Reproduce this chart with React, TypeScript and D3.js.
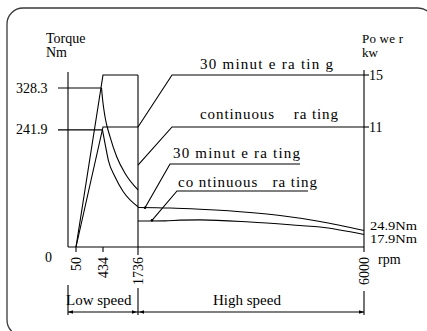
import React from 'react';
import * as d3 from 'd3';

// ---- data ----
const rpmTicks = [50, 434, 1736, 6000];
const torqueTicks = [328.3, 241.9];
const torqueTickRpm = [413, 426];
const powerTicks = [15, 11];
const endLabels = ['24.9Nm', '17.9Nm'];
const regionLabels = ['Low speed', 'High speed'];
const ratingLabels = ['30 minut e ra tin g', 'continuous    ra ting', '30 minut e ra ting', 'co ntinuous   ra ting'];

// power (rpm, kW)
const lowPower30: [number, number][] = [[50, 0], [434, 15], [1736, 15]];
const lowPowerCont: [number, number][] = [[50, 0], [434, 11], [1736, 11]];
// torque (rpm, Nm)
const lowTorque30: [number, number][] = [[413, 328.3], [429, 303.5], [508, 269], [694, 227.8], [944, 186.5], [1252, 152.2], [1736, 117.7]];
const lowTorqueCont: [number, number][] = [[426, 241.9], [508, 214], [631, 179.6], [880, 145.2], [1189, 114.2], [1736, 83.2]];
const highTorque30: [number, number][] = [[1736, 81.6], [2340, 80.5], [2906, 77.8], [3849, 71.2], [4416, 65], [5170, 52.7], [6000, 34.1]];
const highTorqueCont: [number, number][] = [[1736, 53.7], [2245, 54], [2528, 55.4], [2906, 56], [3849, 51.6], [4793, 44.4], [5170, 41.3], [6000, 25.8]];
// leaders
const leaderTop30: [number, number][] = [[1736, 11], [2378, 15], [6000, 15]]; // power
const leaderTopCont: [number, number][] = [[1736, 7.5], [2378, 11], [6000, 11]]; // power
const leaderLow30: [number, number][] = [[1868, 81], [2340, 171.4], [4793, 171.4]]; // torque
const leaderLowCont: [number, number][] = [[2000, 55], [2472, 115.6], [4944, 115.6]]; // torque

export default function App() {
  const W = 427, H = 331;
  const x = d3.scaleLinear().domain([0, 50, 434, 1736, 6000]).range([68, 76, 103, 138, 364]);
  const yT = d3.scaleLinear().domain([0, 328.3]).range([247, 88]);
  const yP = d3.scaleLinear().domain([0, 11, 15]).range([247, 127, 75]);
  const baseY = yT(0);

  const lineT = d3.line<[number, number]>().x(d => x(d[0])).y(d => yT(d[1]));
  const lineP = d3.line<[number, number]>().x(d => x(d[0])).y(d => yP(d[1]));
  const curveT = d3.line<[number, number]>().x(d => x(d[0])).y(d => yT(d[1])).curve(d3.curveMonotoneX);

  const font = "'Liberation Serif', 'Times New Roman', serif";
  const sw = 1.1;
  const xL = x(0), xR = x(6000), xMid = x(1736);
  const dimY = 312;

  const arrow = (tipX: number, dir: number) =>
    `M${tipX},${dimY}L${tipX - dir * 5},${dimY - 1.8}L${tipX - dir * 5},${dimY + 1.8}Z`;

  const ratingPos = [
    { x: 200, y: 69, len: 133 },
    { x: 200, y: 119, len: 138 },
    { x: 173, y: 158, len: 127 },
    { x: 178, y: 187, len: 139 },
  ];

  return (
    <svg width={W} height={H} style={{ position: 'absolute', left: 0, top: 0, display: 'block', background: '#fff' }}
      fontFamily={font}>
      <rect x={7} y={8} width={427} height={328} rx={16} fill="none" stroke="#3a3a3a" strokeWidth={1.3} />

      <g fill="none" stroke="#000" strokeWidth={sw}>
        {/* axes */}
        <line x1={xL} y1={72} x2={xL} y2={baseY} />
        <line x1={xL} y1={baseY} x2={xR} y2={baseY} />
        <line x1={xR} y1={70} x2={xR} y2={252} />
        <line x1={xMid} y1={yP(15)} x2={xMid} y2={255} />
        {rpmTicks.filter(r => r !== 1736 && r !== 6000).map(r => (
          <line key={r} x1={x(r)} y1={baseY} x2={x(r)} y2={baseY + 5} />
        ))}
        {/* torque ticks */}
        {torqueTicks.map((t, i) => (
          <line key={t} x1={58} y1={yT(t)} x2={x(torqueTickRpm[i])} y2={yT(t)} />
        ))}
        {/* power ticks */}
        {powerTicks.map(p => (
          <line key={p} x1={xR} y1={yP(p)} x2={xR + 5} y2={yP(p)} />
        ))}
        {/* curves */}
        <path d={lineP(lowPower30)!} />
        <path d={lineP(lowPowerCont)!} />
        <path d={curveT(lowTorque30)!} />
        <path d={curveT(lowTorqueCont)!} />
        <path d={curveT(highTorque30)!} />
        <path d={curveT(highTorqueCont)!} />
        {/* leaders */}
        <path d={lineP(leaderTop30)!} />
        <path d={lineP(leaderTopCont)!} />
        <path d={lineT(leaderLow30)!} />
        <path d={lineT(leaderLowCont)!} />
        {/* dimension line */}
        <line x1={xL} y1={285} x2={xL} y2={315} />
        <line x1={xMid} y1={288} x2={xMid} y2={315} />
        <line x1={xR} y1={291} x2={xR} y2={315} />
        <line x1={xL} y1={dimY} x2={xR} y2={dimY} />
      </g>
      <g fill="#000">
        <circle cx={x(leaderLow30[0][0])} cy={yT(leaderLow30[0][1])} r={1.3} />
        <circle cx={x(leaderLowCont[0][0])} cy={yT(leaderLowCont[0][1])} r={1.3} />
        <path d={arrow(xL, -1)} />
        <path d={arrow(xMid - 1, 1)} />
        <path d={arrow(xMid + 1, -1)} />
        <path d={arrow(xR, 1)} />
      </g>

      <g fill="#000" fontSize={14}>
        <text x={46} y={43}>Torque</text>
        <text x={46} y={57}>Nm</text>
        <text x={362} y={43} fontSize={13} style={{ whiteSpace: 'pre' }} textLength={41} lengthAdjust="spacing">Po we r</text>
        <text x={362} y={57} fontSize={13}>kw</text>
        {torqueTicks.map(t => (
          <text key={t} x={16} y={yT(t) + 4.5}>{t}</text>
        ))}
        <text x={45} y={262}>0</text>
        {powerTicks.map(p => (
          <text key={p} x={369} y={yP(p) + 4.5}>{p}</text>
        ))}
        {rpmTicks.map(r => (
          <text key={r} transform={`translate(${x(r) + 4.5},257) rotate(-90)`} textAnchor="end">{r}</text>
        ))}
        <text x={378} y={264}>rpm</text>
        <text x={370} y={229.5} fontSize={12.5} textLength={47} lengthAdjust="spacingAndGlyphs">{endLabels[0]}</text>
        <text x={370} y={243} fontSize={12.5} textLength={47} lengthAdjust="spacingAndGlyphs">{endLabels[1]}</text>
        <text x={66} y={305} fontSize={15}>{regionLabels[0]}</text>
        <text x={213} y={305} fontSize={15}>{regionLabels[1]}</text>
        {ratingLabels.map((s, i) => (
          <text key={i} x={ratingPos[i].x} y={ratingPos[i].y} fontSize={15} style={{ whiteSpace: 'pre' }}
            textLength={ratingPos[i].len} lengthAdjust="spacing">{s}</text>
        ))}
      </g>
    </svg>
  );
}
